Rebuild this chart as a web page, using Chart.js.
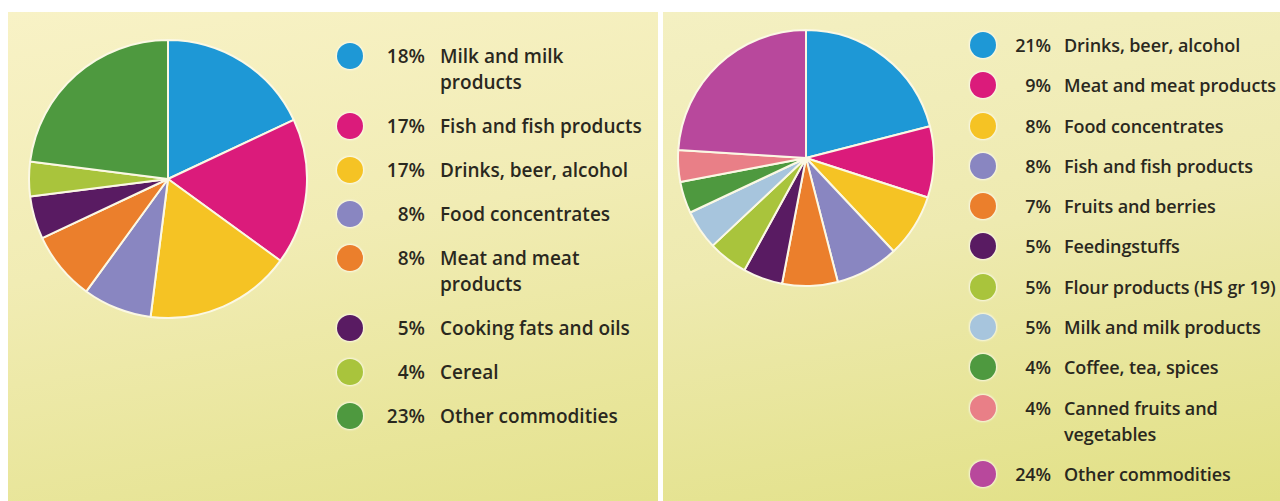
<!DOCTYPE html>
<html>
<head>
<meta charset="utf-8">
<script src="https://cdn.jsdelivr.net/npm/chart.js@4/dist/chart.umd.min.js"></script>
<style>
  html, body { margin: 0; padding: 0; background: #fff; }
  body { width: 1280px; height: 501px; position: relative; overflow: hidden; font-family: "Open Sans", Lato, sans-serif; font-weight: 600; color: #2a281e; }
  .panel { position: absolute; top: 12px; height: 489px; }
  #panel-a { left: 8px; width: 650px; background: linear-gradient(170deg, #f8f2c6 0%, #f1ecb4 45%, #e4e28d 100%); }
  #panel-b { left: 663px; width: 617px; background: linear-gradient(170deg, #f4f0c2 0%, #eeeab0 45%, #e1e084 100%); }
  .pie { position: absolute; }
  .legend { position: absolute; list-style: none; margin: 0; padding: 0; white-space: nowrap; }
  .legend li { position: relative; display: flex; align-items: flex-start; }
  .legend .dot { position: absolute; border-radius: 50%; box-shadow: 0 0 2px 1px rgba(255,255,255,0.7); }
  .legend .pct { text-align: right; flex: none; }
  .legend .name { flex: none; }
</style>
</head>
<body>
<div class="panel" id="panel-a"></div>
<div class="panel" id="panel-b"></div>
<div class="pie" id="pie-a-wrap" style="left:28px; top:39px; width:280px; height:280px;"><canvas id="pie-a"></canvas></div>
<div class="pie" id="pie-b-wrap" style="left:677px; top:29px; width:258px; height:258px;"><canvas id="pie-b"></canvas></div>
<ul class="legend" id="legend-a"></ul>
<ul class="legend" id="legend-b"></ul>
<script>
// left chart: import shares by commodity group
const leftLabels = [
  "Milk and milk\nproducts",
  "Fish and fish products",
  "Drinks, beer, alcohol",
  "Food concentrates",
  "Meat and meat\nproducts",
  "Cooking fats and oils",
  "Cereal",
  "Other commodities",
];
const leftShares = [18, 17, 17, 8, 8, 5, 4, 23];
const leftColors = ["#1e98d6", "#db1b7b", "#f5c324", "#8986c1", "#eb7f2c", "#591b62", "#a9c43c", "#4e993f"];

// right chart
const rightLabels = [
  "Drinks, beer, alcohol",
  "Meat and meat products",
  "Food concentrates",
  "Fish and fish products",
  "Fruits and berries",
  "Feedingstuffs",
  "Flour products (HS gr 19)",
  "Milk and milk products",
  "Coffee, tea, spices",
  "Canned fruits and\nvegetables",
  "Other commodities",
];
const rightShares = [21, 9, 8, 8, 7, 5, 5, 5, 4, 4, 24];
const rightColors = ["#1e98d6", "#db1b7b", "#f5c324", "#8986c1", "#eb7f2c", "#591b62", "#a9c43c", "#a7c5dd", "#4e993f", "#e97f87", "#b8489c"];

function drawPie(id, labels, values, colors) {
  return new Chart(document.getElementById(id), {
    type: "pie",
    data: {
      labels: labels.map((l) => l.replace("\n", " ")),
      datasets: [{
        data: values,
        backgroundColor: colors,
        borderColor: "#fbf8e4",
        borderWidth: 2,
      }],
    },
    options: {
      responsive: true,
      maintainAspectRatio: false,
      animation: false,
      layout: { padding: 0 },
      plugins: { legend: { display: false }, tooltip: { enabled: true } },
    },
  });
}

// legend built from the same arrays; first line of each entry carries the dot
function buildLegend(id, cfg, labels, values, colors) {
  const ul = document.getElementById(id);
  Object.assign(ul.style, {
    left: cfg.left + "px", top: cfg.top + "px", fontSize: cfg.font + "px",
    lineHeight: cfg.line + "px", letterSpacing: cfg.tracking + "px",
  });
  labels.forEach((label, i) => {
    const li = document.createElement("li");
    li.style.marginBottom = cfg.gap + "px";
    const dot = document.createElement("span");
    dot.className = "dot";
    Object.assign(dot.style, {
      width: cfg.dot + "px", height: cfg.dot + "px", background: colors[i],
      left: "0px", top: (cfg.line - cfg.dot) / 2 + "px",
    });
    const pct = document.createElement("span");
    pct.className = "pct";
    pct.style.width = cfg.pctRight + "px";
    pct.textContent = values[i] + "%";
    const name = document.createElement("span");
    name.className = "name";
    name.style.marginLeft = cfg.nameGap + "px";
    name.innerHTML = label.split("\n").join("<br>");
    li.append(dot, pct, name);
    ul.appendChild(li);
  });
}

drawPie("pie-a", leftLabels, leftShares, leftColors);
drawPie("pie-b", rightLabels, rightShares, rightColors);

buildLegend("legend-a", { left: 337, top: 43, font: 19, line: 26, gap: 18, dot: 26, pctRight: 88, nameGap: 15, tracking: 0 },
  leftLabels, leftShares, leftColors);
buildLegend("legend-b", { left: 970, top: 32, font: 18, line: 26, gap: 14.3, dot: 26, pctRight: 81, nameGap: 13, tracking: -0.1 },
  rightLabels, rightShares, rightColors);
</script>
</body>
</html>
